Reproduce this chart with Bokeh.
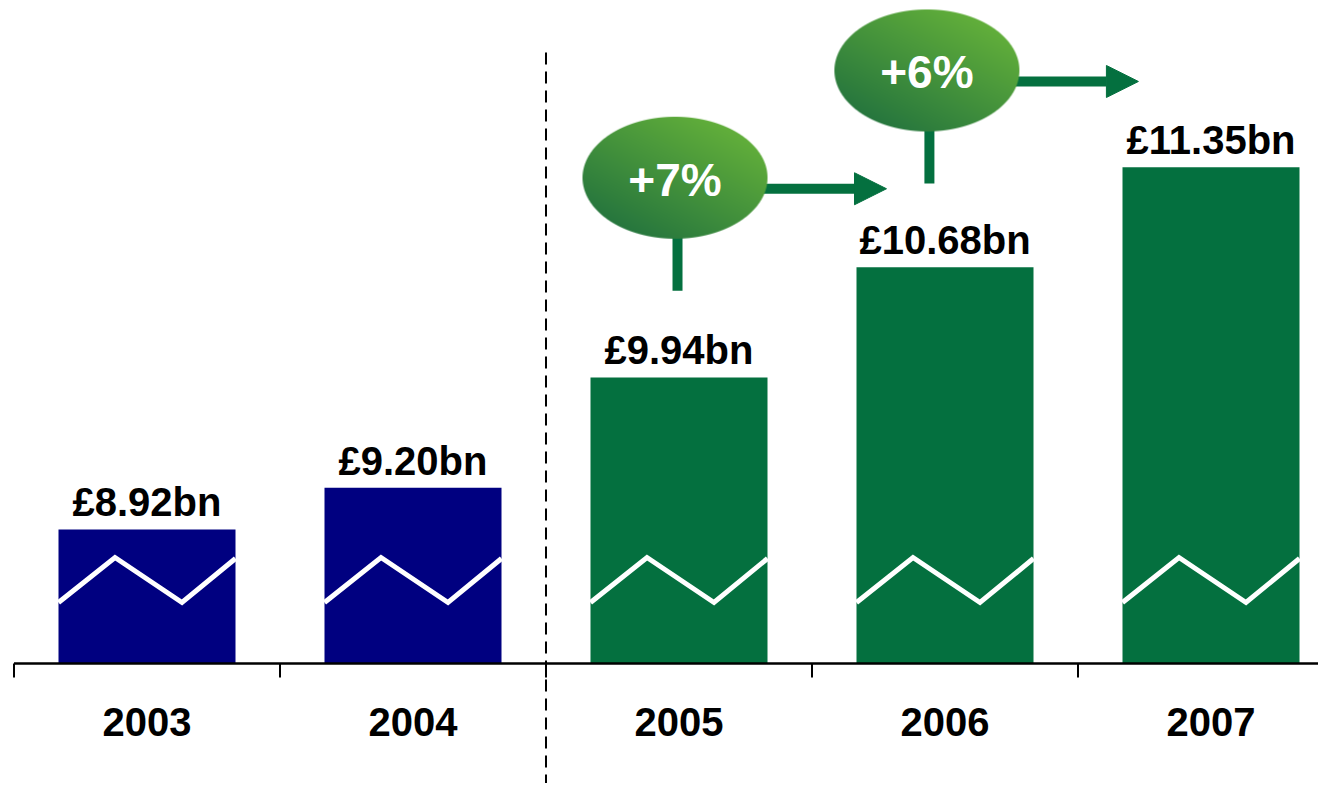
import numpy as np
from bokeh.plotting import figure
from bokeh.models import Arrow, NormalHead, Range1d
from bokeh.core.properties import value
from bokeh.embed import file_html
from bokeh.resources import INLINE

# ---------------- data ----------------
years = ["2003", "2004", "2005", "2006", "2007"]
revenue_bn = [8.92, 9.20, 9.94, 10.68, 11.35]
value_labels = ["£8.92bn", "£9.20bn", "£9.94bn", "£10.68bn", "£11.35bn"]
period = ["past", "past", "new", "new", "new"]
growth_labels = ["+7%", "+6%"]

# ---------------- styling / layout ----------------
NAVY = "#000080"
GREEN = "#04703F"
FONT = value("Liberation Sans")
W, H = 1318, 783
PX_X = 266.0     # pixels per category
PX_Y = 149.0     # pixels per £bn
BASE = 8.02      # broken-axis baseline value
X0 = -146.5 / PX_X
X1 = X0 + W / PX_X
Y1 = BASE + 663 / PX_Y
Y0 = Y1 - H / PX_Y

def dx(px):
    return px / PX_X

def dy(px):
    return px / PX_Y

idx = list(range(len(years)))
colors = [NAVY if g == "past" else GREEN for g in period]

p = figure(width=W, height=H, x_range=Range1d(X0, X1), y_range=Range1d(Y0, Y1),
           output_backend="svg", toolbar_location=None,
           x_axis_location=None, y_axis_location=None,
           min_border=0, outline_line_color=None)
p.xgrid.visible = False
p.ygrid.visible = False
p.background_fill_color = "white"
p.border_fill_color = "white"

# bars
bar_w = dx(177)
p.vbar(x=idx, width=bar_w, bottom=BASE, top=revenue_bn, fill_color=colors, line_color=None)

# zigzag "broken axis" marks
zx = [[i - bar_w / 2, i - dx(32), i + dx(35), i + bar_w / 2] for i in idx]
zy = [[BASE + dy(61), BASE + dy(106), BASE + dy(61), BASE + dy(105)] for _ in idx]
p.multi_line(xs=zx, ys=zy, line_color="white", line_width=5, line_join="miter")

# value labels
p.text(x=idx, y=[v + dy(27) for v in revenue_bn], text=value_labels,
       text_align="center", text_baseline="alphabetic",
       text_font=FONT, text_font_style="bold", text_font_size="40px", text_color="black")

# x axis line, ticks, labels
bounds = [i - 0.5 for i in idx]
p.segment(x0=[bounds[0]], y0=[BASE], x1=[X1], y1=[BASE], line_color="black", line_width=2.5)
p.segment(x0=bounds, y0=[BASE] * len(bounds), x1=bounds, y1=[BASE - dy(14)] * len(bounds),
          line_color="black", line_width=2)
p.text(x=idx, y=[BASE - dy(58)] * len(idx), text=years,
       text_align="center", text_baseline="alphabetic",
       text_font=FONT, text_font_style="bold", text_font_size="40px", text_color="black")

# dashed divider between past and new periods
split = bounds[period.index("new")]
p.segment(x0=[split], y0=[BASE + dy(611)], x1=[split], y1=[Y0], line_color="black",
          line_width=2, line_dash="12 7")

# ---------------- growth callouts ----------------
CALLOUT_X = [1.985, 2.932]
CALLOUT_Y = [11.28, 12.0]
EW, EH = 185, 122

def bubble_rgba(w, h):
    dark = np.array([30, 110, 62], dtype=float)
    light = np.array([96, 173, 58], dtype=float)
    yy, xx = np.mgrid[0:h, 0:w]
    a, b = w / 2.0, h / 2.0
    x = xx + 0.5 - a
    y = yy + 0.5 - b
    u, v = x / a, y / b
    F = np.sqrt(u ** 2 + v ** 2)
    grad = np.sqrt((x / a ** 2) ** 2 + (y / b ** 2) ** 2) / np.maximum(F, 1e-6)
    dist = (1 - F) / np.maximum(grad, 1e-6)
    alpha = np.clip(dist + 0.5, 0, 1)
    t = np.clip(0.58 + 0.45 * (u * 0.64 + v * 0.77), 0, 1)
    rgb = dark[None, None, :] + (light - dark)[None, None, :] * t[..., None]
    img = np.zeros((h, w), dtype=np.uint32)
    view = img.view(dtype=np.uint8).reshape((h, w, 4))
    view[..., 0] = rgb[..., 0].astype(np.uint8)
    view[..., 1] = rgb[..., 1].astype(np.uint8)
    view[..., 2] = rgb[..., 2].astype(np.uint8)
    view[..., 3] = (alpha * 255).astype(np.uint8)
    return img

bub = bubble_rgba(EW, EH)
for cx, cy in zip(CALLOUT_X, CALLOUT_Y):
    # arrow to the next year
    arr = Arrow(x_start=cx + dx(80), y_start=cy - dy(11), x_end=cx + dx(211.5), y_end=cy - dy(11),
                line_color=GREEN, line_width=10, level="underlay",
                end=NormalHead(size=32, fill_color=GREEN, line_color=GREEN, line_width=1))
    p.add_layout(arr)

# stems
p.segment(x0=[cx + dx(2.5) for cx in CALLOUT_X], y0=[cy - dy(58) for cy in CALLOUT_Y],
          x1=[cx + dx(2.5) for cx in CALLOUT_X], y1=[cy - dy(113) for cy in CALLOUT_Y],
          line_color=GREEN, line_width=10, line_cap="butt")

# bubbles
p.image_rgba(image=[bub] * len(CALLOUT_X),
             x=[cx - dx(EW / 2) for cx in CALLOUT_X], y=[cy - dy(EH / 2) for cy in CALLOUT_Y],
             dw=[dx(EW)] * len(CALLOUT_X), dh=[dy(EH)] * len(CALLOUT_X))

p.text(x=CALLOUT_X, y=[cy - dy(2) for cy in CALLOUT_Y], text=growth_labels,
       text_align="center", text_baseline="alphabetic",
       text_font=FONT, text_font_style="bold", text_font_size="46px", text_color="white")

open("out.html", "w").write(file_html(p, INLINE))
